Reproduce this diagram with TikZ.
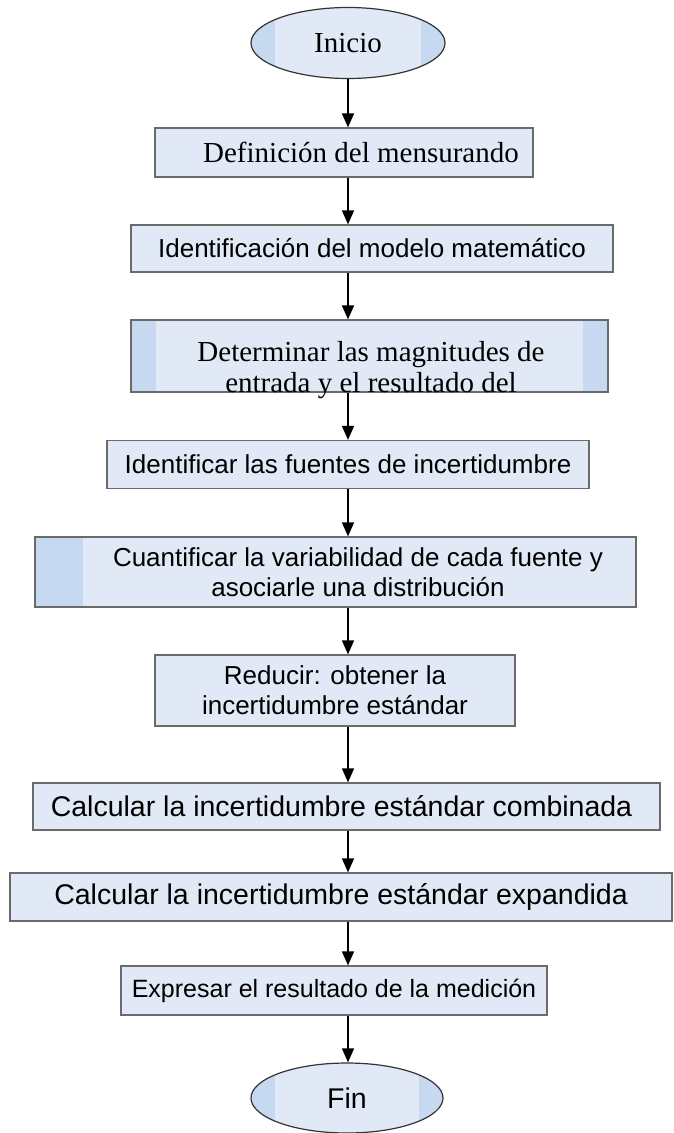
\documentclass[tikz,border=0pt]{standalone}
\usepackage{fontspec}
\setmainfont{Liberation Serif}
\setsansfont{Liberation Sans}
\usetikzlibrary{arrows.meta,shapes.geometric}
\definecolor{boxfill}{HTML}{E2E9F6}
\definecolor{bandfill}{HTML}{C6D9F1}
\definecolor{edge}{HTML}{6A6A6A}
\tikzset{
  pbox/.style={rectangle, draw=edge, line width=1.2pt, fill=boxfill, inner sep=0pt},
  term/.style={ellipse, draw=black!80, line width=1.2pt, fill=boxfill, inner sep=0pt},
  lband/.style={path picture={\fill[bandfill] (path picture bounding box.north west) rectangle ([xshift=#1]path picture bounding box.south west);}},
  lrband/.style={path picture={\fill[bandfill] (path picture bounding box.north west) rectangle ([xshift=#1]path picture bounding box.south west);
      \fill[bandfill] (path picture bounding box.north east) rectangle ([xshift=-#1]path picture bounding box.south east);}},
  flow/.style={line width=1.4pt, -{Triangle[width=12pt,length=14pt]}},
  serif/.style={font=\fontsize{29}{33}\selectfont\rmfamily},
  sans/.style={font=\fontsize{26}{30}\selectfont\sffamily, align=center},
  sansbig/.style={font=\fontsize{28.5}{32}\selectfont\sffamily, align=center},
  sanssmall/.style={font=\fontsize{25}{29}\selectfont\sffamily, align=center},
}
\begin{document}
\begin{tikzpicture}[x=1pt,y=-1pt]
\useasboundingbox (0,0) rectangle (674,1133);
\coordinate (ax) at (348,0);
% nodes
\node[term, lrband=24pt, minimum width=194pt, minimum height=71pt, serif] (ini) at (348,43) {Inicio};
\node[pbox, minimum width=378pt, minimum height=49pt, serif] (def) at (344,152.5) {\hspace*{34pt}Definición del mensurando};
\node[pbox, minimum width=482pt, minimum height=47pt, sans] (ide) at (372,248.5) {Identificación del modelo matemático};
\node[pbox, lrband=25pt, minimum width=477pt, minimum height=72pt] (det) at (369.5,356) {};
\node[serif, anchor=base, inner sep=0pt] (detA) at (371,361) {Determinar las magnitudes de};
\node[serif, anchor=base, inner sep=0pt] (detB) at (371,392) {entrada y el resultado del};
\node[pbox, minimum width=482pt, minimum height=48pt, sans] (idf) at (348,464.5) {Identificar las fuentes de incertidumbre};
\node[pbox, lband=48pt, minimum width=601pt, minimum height=70pt] (cua) at (335.5,572) {};
\node[sans] (cuaT) at (358,572) {Cuantificar la variabilidad de cada fuente y\\asociarle una distribución};
\node[pbox, minimum width=360pt, minimum height=71pt, sans] (red) at (335,690.5) {Reducir: obtener la\\incertidumbre estándar};
\node[pbox, minimum width=627pt, minimum height=47pt, sansbig] (com) at (346.5,806.5) {\hspace*{-10pt}Calcular la incertidumbre estándar combinada};
\node[pbox, minimum width=662pt, minimum height=48pt, sansbig] (exp) at (341,897) {Calcular la incertidumbre estándar expandida};
\node[pbox, minimum width=426pt, minimum height=49pt, sanssmall] (epr) at (334,990.5) {Expresar el resultado de la medición};
\node[term, lrband=24pt, minimum width=192pt, minimum height=70pt, sansbig] (fin) at (347,1098) {Fin};
% connectors
\draw[flow] (ini.south -| ax) -- (def.north -| ax);
\draw[flow] (def.south -| ax) -- (ide.north -| ax);
\draw[flow] (ide.south -| ax) -- (det.north -| ax);
\draw[flow] (det.south -| ax) -- (idf.north -| ax);
\draw[flow] (idf.south -| ax) -- (cua.north -| ax);
\draw[flow] (cua.south -| ax) -- (red.north -| ax);
\draw[flow] (red.south -| ax) -- (com.north -| ax);
\draw[flow] (com.south -| ax) -- (exp.north -| ax);
\draw[flow] (exp.south -| ax) -- (epr.north -| ax);
\draw[flow] (epr.south -| ax) -- (fin.north -| ax);
\end{tikzpicture}
\end{document}
